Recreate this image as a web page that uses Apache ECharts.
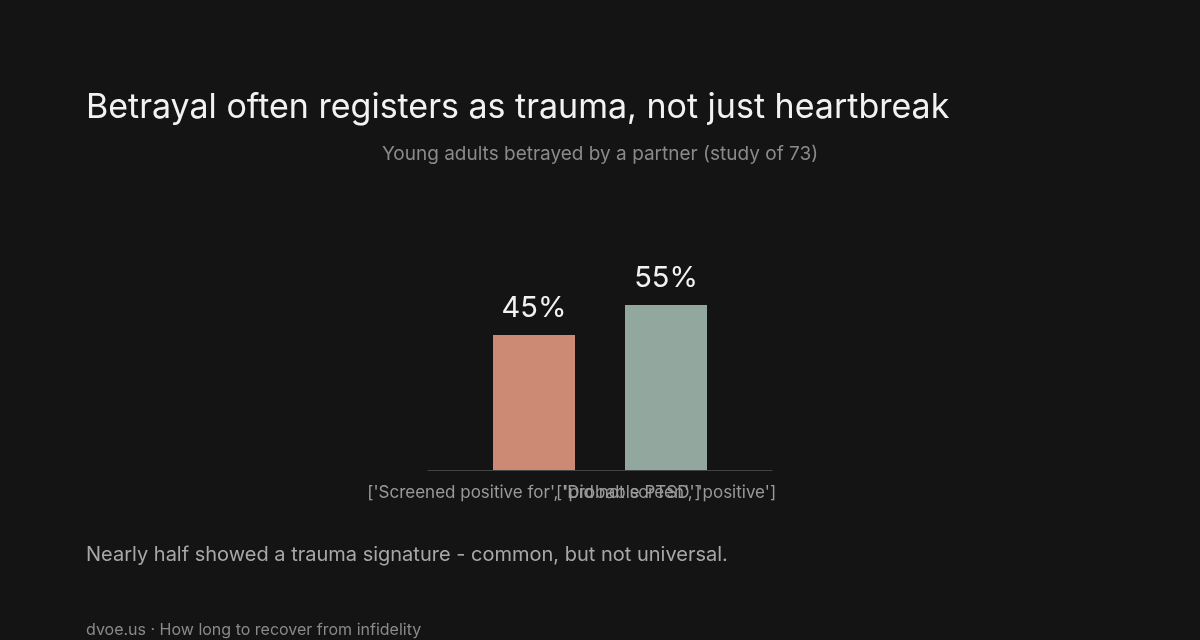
<!DOCTYPE html><html><head><meta charset="utf-8"><script src="https://cdn.jsdelivr.net/npm/echarts@6/dist/echarts.min.js"></script>
<style>html,body{margin:0;background:#141414}#c{width:1200px;height:640px}</style></head><body><div id="c"></div><script>
const categories = ["['Screened positive for', 'probable PTSD']", "['Did not screen', 'positive']"];
const values = [45, 55];
const colors = ['#cc8a74', '#92a89e'];
const ch = echarts.init(document.getElementById('c'));
const F = 'Inter, "Noto Sans", sans-serif';
ch.setOption({
  backgroundColor: '#141414',
  title: [
    {text: 'Betrayal often registers as trauma, not just heartbreak', left: 81, top: 86, textStyle: {color: '#f2f2f2', fontSize: 34, fontWeight: 'normal', fontFamily: F}},
    {text: 'Young adults betrayed by a partner (study of 73)', left: 'center', top: 140, textStyle: {color: '#8a8a8a', fontSize: 19, fontWeight: 'normal', fontFamily: F}},
    {text: 'Nearly half showed a trauma signature - common, but not universal.', left: 81, top: 540, textStyle: {color: '#a8a8a8', fontSize: 20, fontWeight: 'normal', fontFamily: F}},
    {text: 'dvoe.us · How long to recover from infidelity', left: 81, top: 617, textStyle: {color: '#8a8a8a', fontSize: 16, fontWeight: 'normal', fontFamily: F}}
  ],
  grid: [{left: 468, right: 468, top: 170, bottom: 170}, {left: 428, right: 428, top: 170, bottom: 170}],
  xAxis: [
    {type: 'category', data: categories, gridIndex: 0, axisLine: {show: false}, axisTick: {show: false},
     axisLabel: {color: '#9a9a9a', fontSize: 17, fontFamily: F, interval: 0, margin: 14}},
    {type: 'category', data: [''], gridIndex: 1, axisLine: {lineStyle: {color: '#444'}}, axisTick: {show: false}, axisLabel: {show: false}}
  ],
  yAxis: [
    {type: 'value', min: 0, max: 100, show: false, gridIndex: 0},
    {type: 'value', min: 0, max: 100, show: false, gridIndex: 1}
  ],
  series: [{type: 'bar', barWidth: 82, xAxisIndex: 0, yAxisIndex: 0, data: values.map((v, i) => ({value: v, itemStyle: {color: colors[i]}})),
    label: {show: true, position: 'top', formatter: '{c}%', color: '#f2f2f2', fontSize: 29, fontFamily: F, distance: 12}}]
});
</script></body></html>
